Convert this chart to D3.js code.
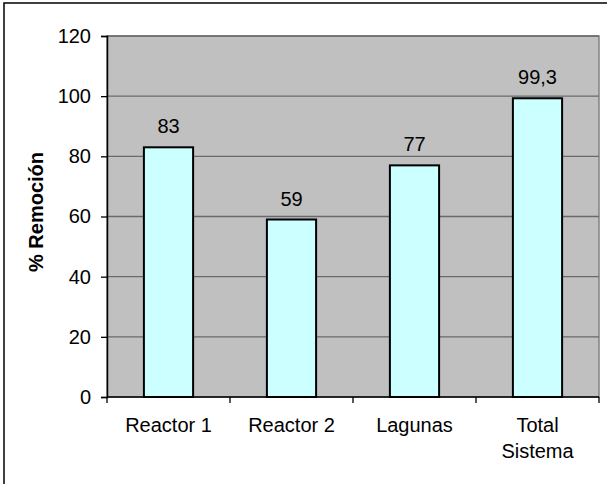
<!DOCTYPE html>
<html><head><meta charset="utf-8">
<script src="https://cdn.jsdelivr.net/npm/d3@7"></script>
<style>body{margin:0;background:#fff}svg{display:block}text{font-family:"Liberation Sans",Arial,sans-serif}</style>
</head><body><svg id="c" width="607" height="484"></svg>
<script>
const categories = [["Reactor 1"],["Reactor 2"],["Lagunas"],["Total","Sistema"]];
const values = [83, 59, 77, 99.3];
const valueLabels = ["83","59","77","99,3"];
const yTicks = [0,20,40,60,80,100,120];
const yTitle = "% Remoción";

const svg = d3.select("#c");
const L = 107, R = 599, T = 36, B = 397;
svg.append("rect").attr("x",4).attr("y",3).attr("width",640).attr("height",520)
  .attr("fill","#fff").attr("stroke","#000").attr("stroke-width",1.5);

const x = d3.scaleBand().domain(d3.range(categories.length)).range([L,R]).paddingInner(0.6).paddingOuter(0.3);
const y = d3.scaleLinear().domain([0,120]).range([B,T]);

svg.append("rect").attr("x",L).attr("y",T).attr("width",R-L).attr("height",B-T)
  .attr("fill","#C0C0C0").attr("stroke","#808080").attr("stroke-width",1.5);

// gridlines
svg.append("g").selectAll("line").data(yTicks.filter(d=>d>0)).join("line")
  .attr("x1",L).attr("x2",R).attr("y1",d=>y(d)).attr("y2",d=>y(d))
  .attr("stroke","#6a6a6a").attr("stroke-width",1.3);

// bars
svg.append("g").selectAll("rect").data(values).join("rect")
  .attr("x",(d,i)=>x(i)).attr("width",x.bandwidth())
  .attr("y",d=>y(d)).attr("height",d=>B-y(d))
  .attr("fill","#CCFFFF").attr("stroke","#000").attr("stroke-width",2);

// value labels
svg.append("g").selectAll("text").data(values).join("text")
  .attr("x",(d,i)=>x(i)+x.bandwidth()/2).attr("y",d=>y(d)-14)
  .attr("text-anchor","middle").attr("font-size",20).attr("fill","#000")
  .text((d,i)=>valueLabels[i]);

// y axis
const ya = svg.append("g").attr("transform",`translate(${L},0)`)
  .call(d3.axisLeft(y).tickValues(yTicks).tickSize(6).tickPadding(10));
ya.select(".domain").attr("stroke","#000").attr("stroke-width",1.5);
ya.selectAll(".tick line").attr("stroke","#000").attr("stroke-width",1.3);
ya.selectAll(".tick text").attr("font-size",20).attr("fill","#000").attr("font-family","Liberation Sans, Arial, sans-serif");

// x axis
const xa = svg.append("g").attr("transform",`translate(0,${B})`);
xa.append("line").attr("x1",L).attr("x2",R).attr("y1",0).attr("y2",0).attr("stroke","#000").attr("stroke-width",1.5);
const step = x.step();
xa.selectAll("line.t").data(d3.range(categories.length+1)).join("line").attr("class","t")
  .attr("x1",i=>L+i*step).attr("x2",i=>L+i*step).attr("y1",0).attr("y2",6)
  .attr("stroke","#000").attr("stroke-width",1.3);
const xt = xa.selectAll("text").data(categories).join("text")
  .attr("text-anchor","middle").attr("font-size",20).attr("fill","#000")
  .attr("x",(d,i)=>x(i)+x.bandwidth()/2);
xt.each(function(d){
  const t = d3.select(this);
  d.forEach((s,k)=>t.append("tspan").attr("x",t.attr("x")).attr("y",35+k*26).text(s));
});

svg.append("text").attr("transform","translate(43,212) rotate(-90)")
  .attr("text-anchor","middle").attr("font-size",20).attr("font-weight","bold").attr("fill","#000")
  .text(yTitle);
</script></body></html>
